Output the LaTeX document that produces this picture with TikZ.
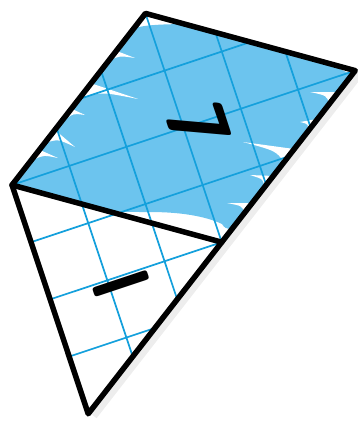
\documentclass[tikz,border=0pt]{standalone}
\usepackage{fontspec}
\usepackage{xcolor}
\usetikzlibrary{calc}
\definecolor{sheetblue}{RGB}{108,196,238}
\definecolor{gridblue}{RGB}{20,160,220}

\begin{document}
\begin{tikzpicture}[
    edge/.style={line width=2.6pt, line join=round, line cap=round},
    gridline/.style={gridblue, line width=0.8pt},
    gap/.style={fill=white},
    lettermark/.style={font=\sffamily\bfseries\fontsize{39}{39}\selectfont, inner sep=0pt, transform shape}
]
    % Picture frame
    \useasboundingbox (-0.199,-3.914) rectangle (5.738,3.068);

    \begin{scope}[rotate=18.43]
    % Corners of the rhombus and the triangle
    \coordinate (d) at (0,0);
    \coordinate (a) at (3,2);
    \coordinate (b) at (6,0);
    \coordinate (c) at (3,-2);
    \coordinate (e) at (0,-4);

    % Soft shadow along the right side
    \draw[black!7, line width=5pt] ([shift={(0.06,-0.04)}]b) -- ([shift={(0.06,-0.04)}]e);
    \end{scope}

    % Blue colouring, in pixel units of the sheet
    \begin{scope}[shift={(-0.199cm,3.068cm)}, x=0.016584cm, y=-0.016584cm]
        \clip (d) -- (a) -- (b) -- (c) -- cycle;
        \fill[sheetblue] (0,185) -- (131,30) .. controls (138,26) and (150,24) .. (195,24)
            -- (360,70) -- (238,223) .. controls (234,231) and (226,231) .. (222,224)
            .. controls (205,216) and (180,212) .. (150,212)
            .. controls (130,212) and (115,212) .. (100,209) -- (0,185) -- cycle;
        % white spikes left by the crayon
        \foreach \p/\q/\r in {{114,50}/{135,58}/{109,61}, {90,83}/{138,99}/{83,97},
                              {70,108}/{85,115}/{66,119}, {55,130}/{75,147}/{45,143},
                              {40,150}/{58,158}/{35,159}, {338,92}/{310,92}/{329,104},
                              {317,119}/{300,122}/{307,133}, {294,149}/{243,142}/{284,162},
                              {274,176}/{250,175}/{264,188}, {253,203}/{227,203}/{244,213},
                              {352,68}/{300,57}/{350,74}}
            \fill[gap] (\p) -- (\q) .. controls ($(\q)!0.5!(\r)!0.4!(\p)$) .. (\r) -- cycle;
    \end{scope}

    \begin{scope}[rotate=18.43]
    % Grid
    \begin{scope}
        \clip (d) -- (a) -- (b) -- (e) -- cycle;
        \draw[gridline] (0,-4) grid (6,2);
    \end{scope}

    % Outlines
    \draw[edge] (d) -- (a) -- (b) -- (e) -- cycle;
    \draw[edge] (d) -- (c);

    % Letter in the triangle
    \node[lettermark, rotate=-90, xscale=0.8] (one) at (1.2,-2.12) {I};
    \end{scope}

    % Letter in the rhombus
    \node[lettermark, cm={-0.287,0.884,-1.096,0.096,(0,0)}] (ell) at (3.06,1.10) {L};
\end{tikzpicture}
\end{document}
